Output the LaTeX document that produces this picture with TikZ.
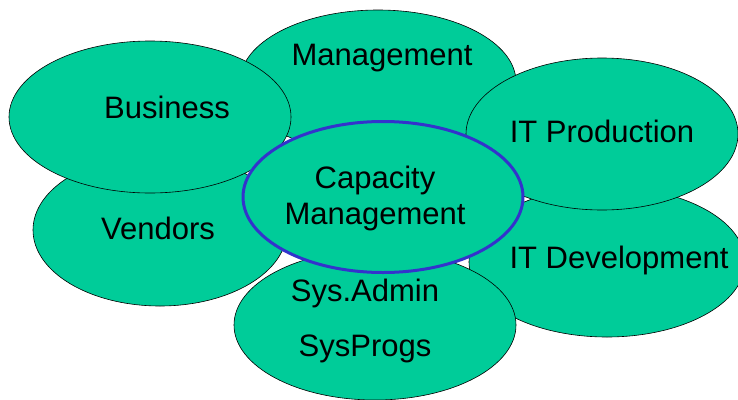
\documentclass[tikz,border=0pt]{standalone}
\usepackage{fontspec}
\setmainfont{Liberation Sans}
\usetikzlibrary{shapes.geometric}
\definecolor{blobgreen}{RGB}{0,204,153}
\definecolor{capblue}{RGB}{51,51,204}
\begin{document}
\begin{tikzpicture}[x=1pt,y=-1pt,inner sep=0pt,
                    font=\fontsize{31}{36}\selectfont]
    \tikzset{blob/.style={ellipse,draw=black,line width=0.6pt,fill=blobgreen}}
    \useasboundingbox (0,0) rectangle (738,399);
    % outer ring, back to front
    \node[blob,minimum width=276pt,minimum height=144pt] (mgmt) at (378,82) {};
    \node[blob,minimum width=276pt,minimum height=150pt] (itdev) at (607,262) {};
    \node[blob,minimum width=254pt,minimum height=152pt] (vendors) at (160,230) {};
    \node[blob,minimum width=272pt,minimum height=152pt] (itprod) at (602,134) {};
    \node[blob,minimum width=282pt,minimum height=152pt] (business) at (150,117) {};
    \node[blob,minimum width=282pt,minimum height=150pt] (sys) at (375,325) {};
    % centre
    \node[blob,draw=capblue,line width=3pt,minimum width=280pt,
          minimum height=151pt] (cap) at (383,197) {};
    % labels
    \node (mgmtlbl) at (382,58) {Management};
    \node (businesslbl) at (167,107) {Business};
    \node (itprodlbl) at (602,131) {IT Production};
    \node (vendorslbl) at (158,228) {Vendors};
    \node (itdevlbl) at (619,260) {IT Development};
    \node (caplbl) at (375,198) [align=center] {Capacity\\Management};
    \node (adminlbl) at (365,293) {Sys.Admin};
    \node (progslbl) at (365,349) {SysProgs};
\end{tikzpicture}
\end{document}
